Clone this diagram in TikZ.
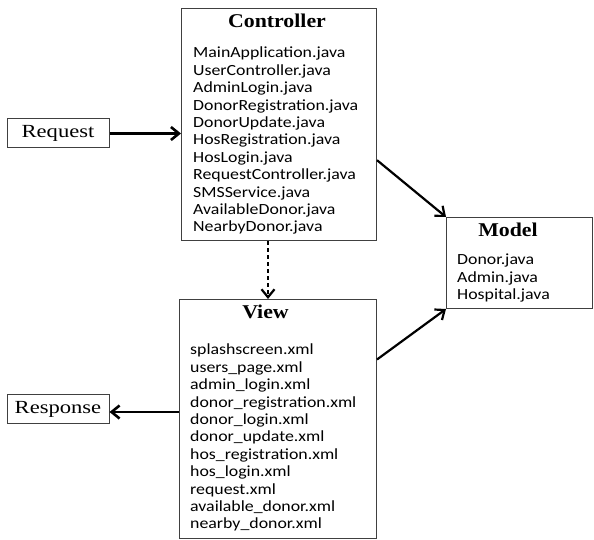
\documentclass[tikz,border=0pt]{standalone}
\usepackage{fontspec}
\usetikzlibrary{arrows.meta}
\newfontfamily\itemfont[FakeStretch=1.15]{Carlito}
\newfontfamily\headfont[FakeStretch=1.12]{Liberation Serif}
\newfontfamily\iofont[FakeStretch=1.22]{Liberation Serif}
\tikzset{
  box/.style={draw=black!75,line width=1pt,rectangle,inner sep=0pt,anchor=north west},
  head/.style={font=\headfont\bfseries\fontsize{19.5}{20}\selectfont,inner sep=0pt,anchor=base},
  files/.style={font=\itemfont\fontsize{15.5}{17.4}\selectfont,align=left,inner sep=0pt,anchor=north west},
  io/.style={draw=black!75,line width=1pt,rectangle,minimum width=102pt,minimum height=29pt,inner sep=0pt,font=\iofont\fontsize{18.5}{20}\selectfont},
  link/.style={line width=2.2pt,-{Straight Barb[length=8pt,width=13pt]}},
}
\begin{document}
\begin{tikzpicture}[x=1pt,y=-1pt]
    \useasboundingbox (0,0) rectangle (594,540);
    %% Boxes
    \node[box,minimum width=195pt,minimum height=232pt] (ctrl) at (181,8) {};
    \node[box,minimum width=197pt,minimum height=239pt] (view) at (179,299) {};
    \node[box,minimum width=146pt,minimum height=91pt] (model) at (446,217) {};
    %% Titles
    \node[head] (ctrlhead) at (277,28) {Controller};
    \node[head] (viewhead) at (265.5,318) {View};
    \node[head] (modelhead) at (508,236) {Model};
    %% File lists
    \node[files] (ctrlfiles) at (193,47) {MainApplication.java\\UserController.java\\AdminLogin.java\\DonorRegistration.java\\DonorUpdate.java\\HosRegistration.java\\HosLogin.java\\RequestController.java\\SMSService.java\\AvailableDonor.java\\NearbyDonor.java};
    \node[files] (viewfiles) at (190,344) {splashscreen.xml\\users\_page.xml\\admin\_login.xml\\donor\_registration.xml\\donor\_login.xml\\donor\_update.xml\\hos\_registration.xml\\hos\_login.xml\\request.xml\\available\_donor.xml\\nearby\_donor.xml};
    \node[files] (modelfiles) at (457,254) {Donor.java\\Admin.java\\Hospital.java};
    %% Request and response
    \node[io] (req) at (58,133.5) {Request};
    \node[io] (resp) at (58,409) {Response};
    %% Links
    \coordinate (dashtop) at ([xshift=-11pt]ctrl.south);
    \draw[link,line width=2.6pt] (req.east) -- (req.east -| ctrl.west);
    \draw[link] (ctrl.-20.3) -- (model.north west);
    \draw[link] (view.31.1) -- (model.south west);
    \draw[link,dash pattern=on 4pt off 3pt] (dashtop) -- (dashtop |- view.north);
    \draw[link,line width=2.6pt] ([yshift=-3pt]view.west |- resp.east) -- ([yshift=-3pt]resp.east);
\end{tikzpicture}
\end{document}
